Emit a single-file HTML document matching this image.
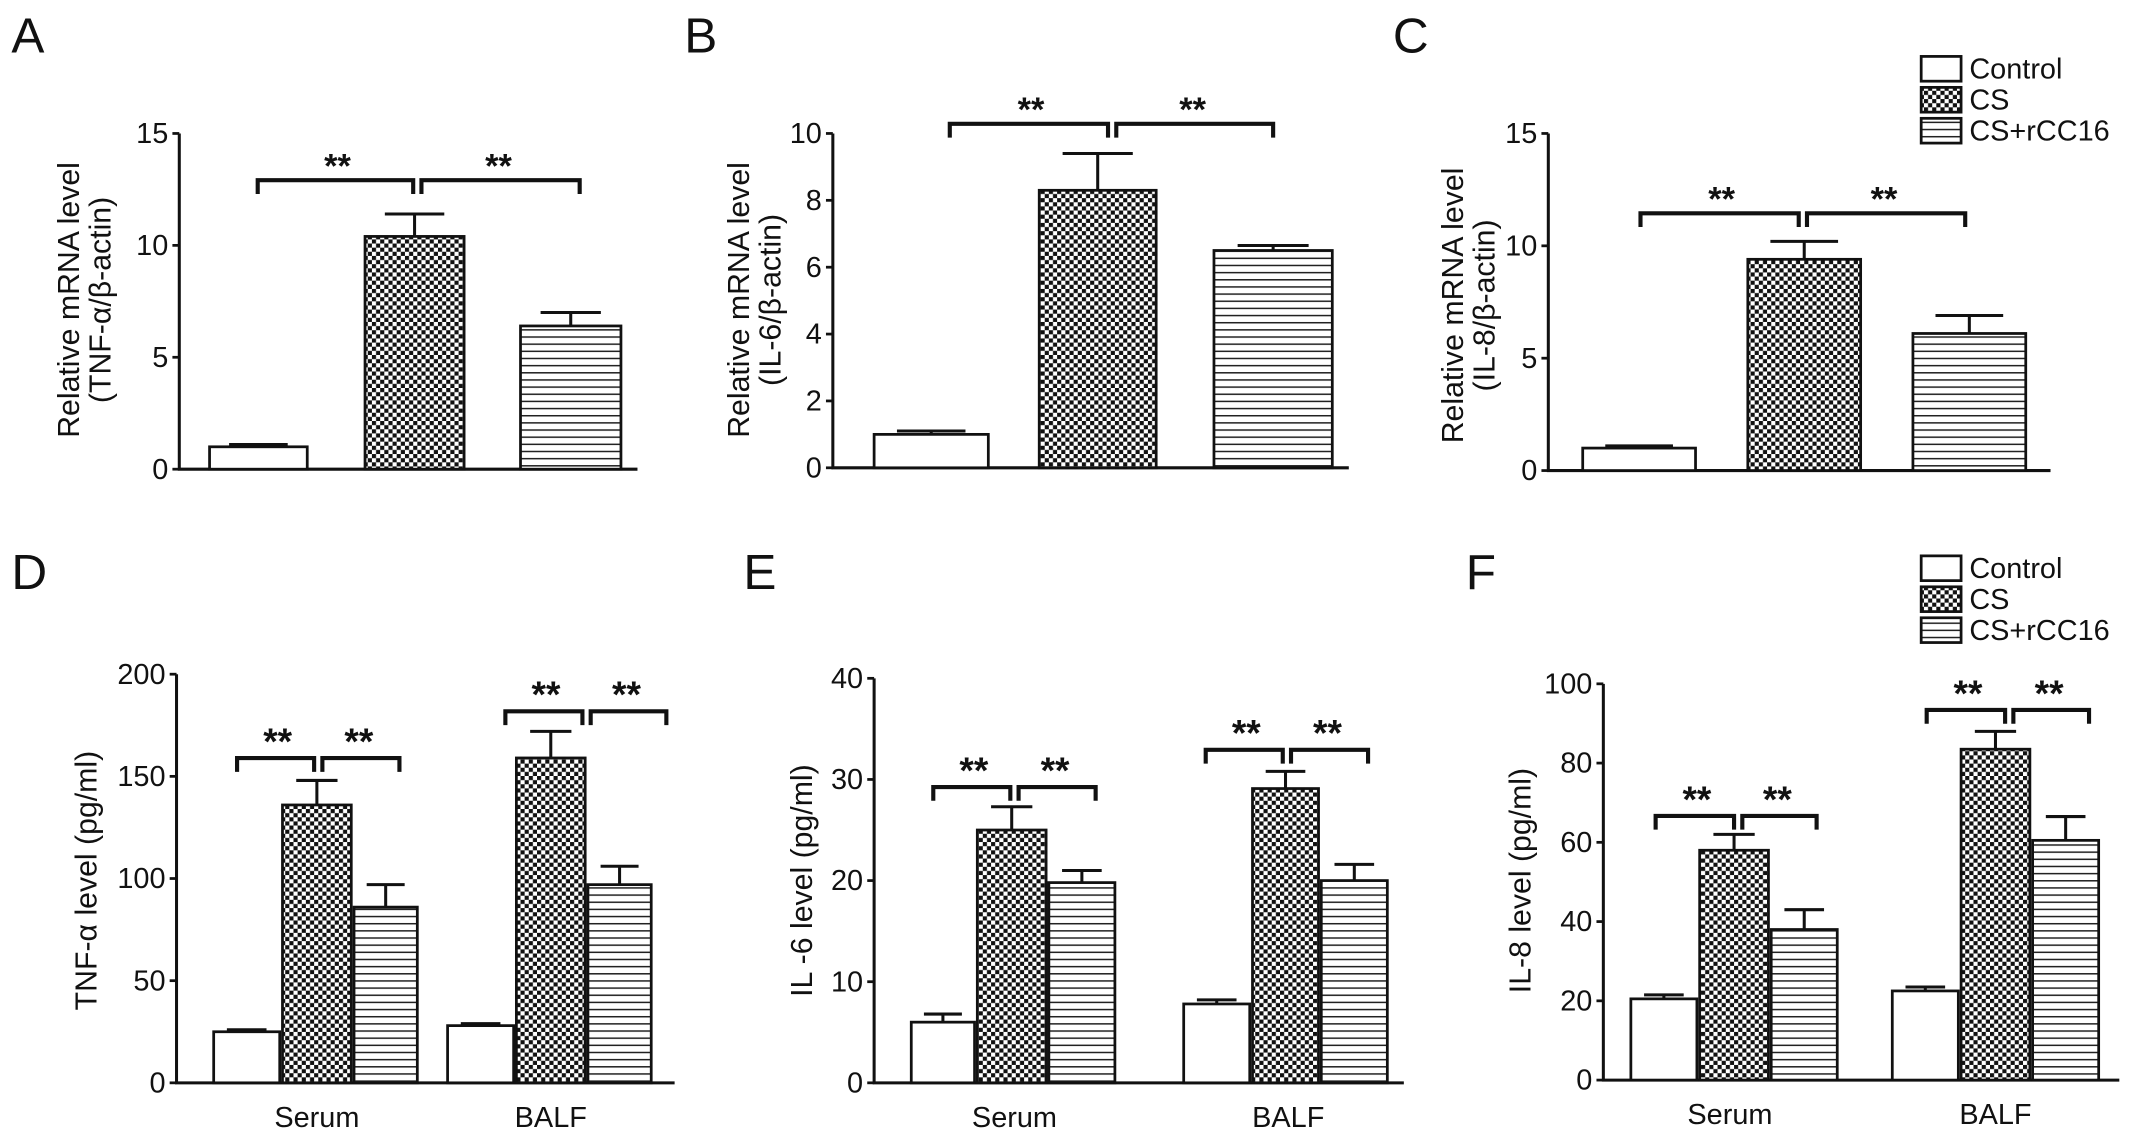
<!DOCTYPE html>
<html><head><meta charset="utf-8"><style>
html,body{margin:0;padding:0;background:#fff}
svg{display:block}
text{font-family:"Liberation Sans",Arial,sans-serif;fill:#111}
</style></head><body>
<svg id="fig" width="2150" height="1142" viewBox="0 0 1562 830" xmlns="http://www.w3.org/2000/svg">
<defs>
<pattern id="chk" width="6" height="6" patternUnits="userSpaceOnUse">
<rect width="6" height="6" fill="#fff"/><rect width="3" height="3" fill="#111"/><rect x="3" y="3" width="3" height="3" fill="#111"/>
</pattern>
<pattern id="str" width="6" height="5.2" patternUnits="userSpaceOnUse">
<rect width="6" height="5.2" fill="#fff"/><rect y="0" width="6" height="1.1" fill="#222"/>
</pattern>
</defs>
<g id="root"></g>
</svg>
<script>
// Panel A-C: Control, CS, CS+rCC16
const groupsTop = ["Control","CS","CS+rCC16"];
const valsA = [1.0, 10.4, 6.4];
const errA = [1.1, 11.4, 7.0];
const valsB = [1.0, 8.3, 6.5];
const errB = [1.1, 9.4, 6.65];
const valsC = [1.0, 9.4, 6.1];
const errC = [1.1, 10.2, 6.9];
// Panel D-F: Serum, BALF
const cats = ["Serum","BALF"];
const valsD = [[25,136,86],[28,159,97]];
const errD = [[26,148,97],[29,172,106]];
const valsE = [[6.0,25,19.8],[7.8,29.1,20]];
const errE = [[6.8,27.3,21],[8.2,30.8,21.6]];
const valsF = [[20.5,58,38],[22.5,83.5,60.5]];
const errF = [[21.5,62,43],[23.5,88,66.5]];
const ticksA = [0,5,10,15], ticksB=[0,2,4,6,8,10], ticksC=[0,5,10,15];
const ticksD = [0,50,100,150,200], ticksE=[0,10,20,30,40], ticksF=[0,20,40,60,80,100];

const NS="http://www.w3.org/2000/svg";
const root=document.getElementById('root');
const fills=["#fff","url(#chk)","url(#str)"];
function el(tag,attrs,parent){const e=document.createElementNS(NS,tag);for(const k in attrs)e.setAttribute(k,attrs[k]);(parent||root).appendChild(e);return e;}
function txt(s,attrs,parent){const t=el('text',attrs,parent);t.textContent=s;return t;}

function panel(cfg){
  const g=el('g',{});
  
  
  const y=v=>cfg.y0-(v/cfg.max)*(cfg.y0-cfg.ytop);
  const l=txt(cfg.letter,{x:cfg.lx,y:cfg.ly,'font-size':36},g);
  
  
  const ax=el('path',{d:`M${cfg.ax},${y(cfg.max)}V${cfg.y0}H${cfg.axEnd}`,stroke:'#111','stroke-width':2.2,fill:'none'},g);
  
  
  cfg.ticks.forEach(t=>{
    el('line',{x1:cfg.ax-5,x2:cfg.ax,y1:y(t),y2:y(t),stroke:'#111','stroke-width':2},g);
    const tl=txt(String(t),{x:cfg.ax-8,y:y(t)+7,'font-size':21,'text-anchor':'end'},g);
    
    
  });
  const yt=txt('',{transform:`translate(${cfg.tx},${cfg.ty}) rotate(-90)`,'font-size':22,'text-anchor':'middle'},g);
  
  
  cfg.title.forEach((s,i)=>{const ts=el('tspan',{x:0,dy:i?23:0},yt);ts.textContent=s;});
  cfg.bars.forEach(b=>{
    const top=y(b.v);
    const e=y(b.e);
    const cx=(b.x1+b.x2)/2;
    const w=b.x2-b.x1;
    const eb=el('path',{d:`M${cx},${top}V${e}M${cx-w*0.3},${e}H${cx+w*0.3}`,stroke:'#111','stroke-width':2.2,fill:'none'},g);
    
    
    const r=el('rect',{x:b.x1,y:top,width:w,height:cfg.y0-top,fill:fills[b.k],stroke:'#111','stroke-width':2},g);
    
    
  });
  cfg.brackets.forEach(br=>{
    const p=el('path',{d:`M${br.a},${br.y+10}V${br.y}H${br.b-3}V${br.y+10}M${br.b+3},${br.y+10}V${br.y}H${br.c}V${br.y+10}`,stroke:'#111','stroke-width':3,fill:'none'},g);
    
    
    [(br.a+br.b)/2,(br.b+br.c)/2].forEach(x=>{
      const s=txt('**',{x:x,y:br.y-(cfg.sm?3:2),'font-size':cfg.sm?27:25,'font-weight':'bold','text-anchor':'middle'},g);
      
      
    });
  });
  (cfg.xl||[]).forEach(xl=>{
    const t=txt(xl.s,{x:xl.x,y:cfg.y0+32,'font-size':21,'text-anchor':'middle'},g);
    
    
  });
}
function topBars(xs,vals,errs){return xs.map((p,i)=>({x1:p[0],x2:p[1],v:vals[i],e:errs[i],k:i,name:groupsTop[i].toLowerCase()}));}
function botBars(xs,vals,errs){const out=[];xs.forEach((grp,c)=>grp.forEach((p,i)=>out.push({x1:p[0],x2:p[1],v:vals[c][i],e:errs[c][i],k:i,name:cats[c].toLowerCase()+'-'+groupsTop[i].toLowerCase()})));return out;}

panel({letter:'A',lx:8,ly:38,ax:130,axEnd:463,y0:341,ytop:97,max:15,ticks:ticksA,tx:57,ty:218,
  title:['Relative mRNA level','(TNF-α/β-actin)'],
  bars:topBars([[152,223],[265,337],[378,451]],valsA,errA),
  brackets:[{a:187,b:303,c:421,y:131}]});
panel({letter:'B',lx:497,ly:38,ax:605,axEnd:980,y0:340,ytop:97,max:10,ticks:ticksB,tx:544,ty:218,
  title:['Relative mRNA level','(IL-6/β-actin)'],
  bars:topBars([[635,718],[755,840],[882,968]],valsB,errB),
  brackets:[{a:690,b:808,c:925,y:90}]});
panel({letter:'C',lx:1012,ly:38,ax:1125,axEnd:1490,y0:342,ytop:97,max:15,ticks:ticksC,tx:1063,ty:222,
  title:['Relative mRNA level','(IL-8/β-actin)'],
  bars:topBars([[1150,1232],[1270,1352],[1390,1472]],valsC,errC),
  brackets:[{a:1192,b:1310,c:1428,y:155}]});
panel({letter:'D',lx:8,ly:428,ax:128,axEnd:490,y0:787,ytop:490,max:200,ticks:ticksD,tx:70,ty:640,sm:true,
  title:['TNF-α level (pg/ml)'],
  bars:botBars([[[155,203],[205,255],[257,303]],[[325,373],[375,425],[427,473]]],valsD,errD),
  brackets:[{a:172,b:231,c:290,y:551},{a:367,b:426,c:484,y:517}],
  xl:[{s:'Serum',x:230},{s:'BALF',x:400}]});
panel({letter:'E',lx:540,ly:428,ax:635,axEnd:1020,y0:787,ytop:493,max:40,ticks:ticksE,tx:590,ty:640,sm:true,
  title:['IL -6 level (pg/ml)'],
  bars:botBars([[[662,708],[710,760],[762,810]],[[860,908],[910,958],[960,1008]]],valsE,errE),
  brackets:[{a:678,b:737,c:796,y:572},{a:876,b:935,c:994,y:545}],
  xl:[{s:'Serum',x:737},{s:'BALF',x:936}]});
panel({letter:'F',lx:1065,ly:428,ax:1165,axEnd:1540,y0:785,ytop:497,max:100,ticks:ticksF,tx:1112,ty:640,sm:true,
  title:['IL-8 level (pg/ml)'],
  bars:botBars([[[1185,1233],[1235,1285],[1287,1335]],[[1375,1423],[1425,1475],[1477,1525]]],valsF,errF),
  brackets:[{a:1203,b:1263,c:1320,y:593},{a:1400,b:1460,c:1518,y:516}],
  xl:[{s:'Serum',x:1257},{s:'BALF',x:1450}]});

function legend(x,y0){
  const g=el('g',{});
  
  
  groupsTop.forEach((s,i)=>{
    const yy=y0+i*22.5;
    const r=el('rect',{x:x,y:yy-9,width:29,height:18,fill:fills[i],stroke:'#111','stroke-width':2},g);
    
    
    const t=txt(s,{x:x+35,y:yy+7,'font-size':21},g);
    
    
  });
}
legend(1396,50);
legend(1396,413);
</script>
</body></html>
